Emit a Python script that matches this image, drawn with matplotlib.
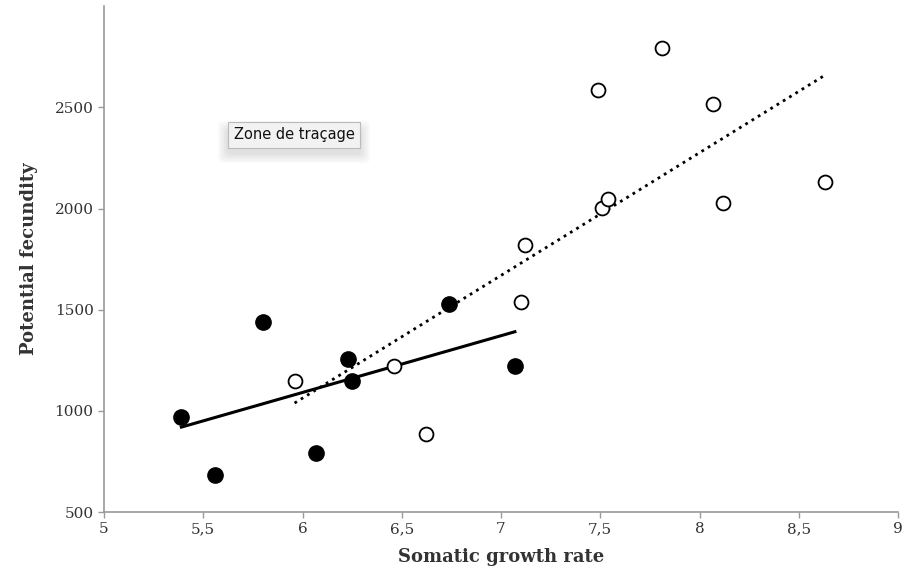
import matplotlib.pyplot as plt
from matplotlib.patches import FancyBboxPatch
import numpy as np

# Filled circles (group 1)
x_filled = [5.39, 5.56, 5.80, 6.07, 6.23, 6.25, 6.74, 7.07]
y_filled = [970, 683, 1439, 792, 1256, 1148, 1528, 1222]

# Open circles (group 2)
x_open = [5.96, 6.46, 6.62, 7.10, 7.12, 7.51, 7.54, 7.49, 7.81, 8.07, 8.12, 8.63]
y_open = [1148, 1222, 886, 1538, 1820, 2003, 2047, 2586, 2794, 2517, 2027, 2131]

x_ticks = [5, 5.5, 6, 6.5, 7, 7.5, 8, 8.5, 9]
x_tick_labels = ['5', '5,5', '6', '6,5', '7', '7,5', '8', '8,5', '9']
y_ticks = [500, 1000, 1500, 2000, 2500]

fig = plt.figure(figsize=(9.1, 5.81), dpi=100)
ax = fig.add_axes([104 / 910, 1 - 512 / 581, 794 / 910, 505.75 / 581])

# Linear trend lines over each group's range
for xs, ys, ls in [(x_filled, y_filled, '-'), (x_open, y_open, ':')]:
    xs = np.array(xs)
    k, b = np.polyfit(xs, ys, 1)
    xx = np.array([xs.min(), xs.max()])
    ax.plot(xx, k * xx + b, color='black', lw=2.2 if ls == '-' else 2.0, linestyle=ls, zorder=2)

ax.plot(x_filled, y_filled, 'o', color='black', markersize=11, zorder=3)
ax.plot(x_open, y_open, 'o', markerfacecolor='white', markeredgecolor='black',
        markeredgewidth=1.3, markersize=10, zorder=3)

ax.set_xlim(5, 9)
ax.set_ylim(500, 3000)
ax.set_xticks(x_ticks)
ax.set_xticklabels(x_tick_labels)
ax.set_yticks(y_ticks)

for s in ['top', 'right']:
    ax.spines[s].set_visible(False)
for s in ['left', 'bottom']:
    ax.spines[s].set_color('#999999')
    ax.spines[s].set_linewidth(1.2)
ax.tick_params(axis='both', colors='#999999', labelcolor='#333333', length=4, width=1,
               labelsize=11)
for lab in ax.get_xticklabels() + ax.get_yticklabels():
    lab.set_family('DejaVu Serif')

ax.set_xlabel('Somatic growth rate', fontsize=13, fontweight='bold', family='DejaVu Serif',
              color='#333333', labelpad=8)
ax.set_ylabel('Potential fecundity', fontsize=13, fontweight='bold', family='DejaVu Serif',
              color='#333333', labelpad=12)

# soft shadow under the tooltip (offset downwards)
for i in range(5):
    d = (i + 1) * 2
    sh = FancyBboxPatch(((228 - d) / 910, 1 - (150 + d + 3) / 581),
                        (132 + 2 * d) / 910, (22 + 2 * d) / 581,
                        boxstyle='round,pad=0,rounding_size=0.008', transform=fig.transFigure,
                        facecolor='black', edgecolor='none', alpha=0.025, zorder=5)
    fig.patches.append(sh)

# "Zone de traçage" tooltip
fig.text(294 / 910, 1 - 135 / 581, 'Zone de traçage', ha='center', va='center',
         fontsize=10.5, family='DejaVu Sans', color='#111111', zorder=10,
         bbox=dict(boxstyle='square,pad=0.35', facecolor='#f2f2f2', edgecolor='#bbbbbb', lw=0.8))

fig.savefig('out.png', dpi=100)
